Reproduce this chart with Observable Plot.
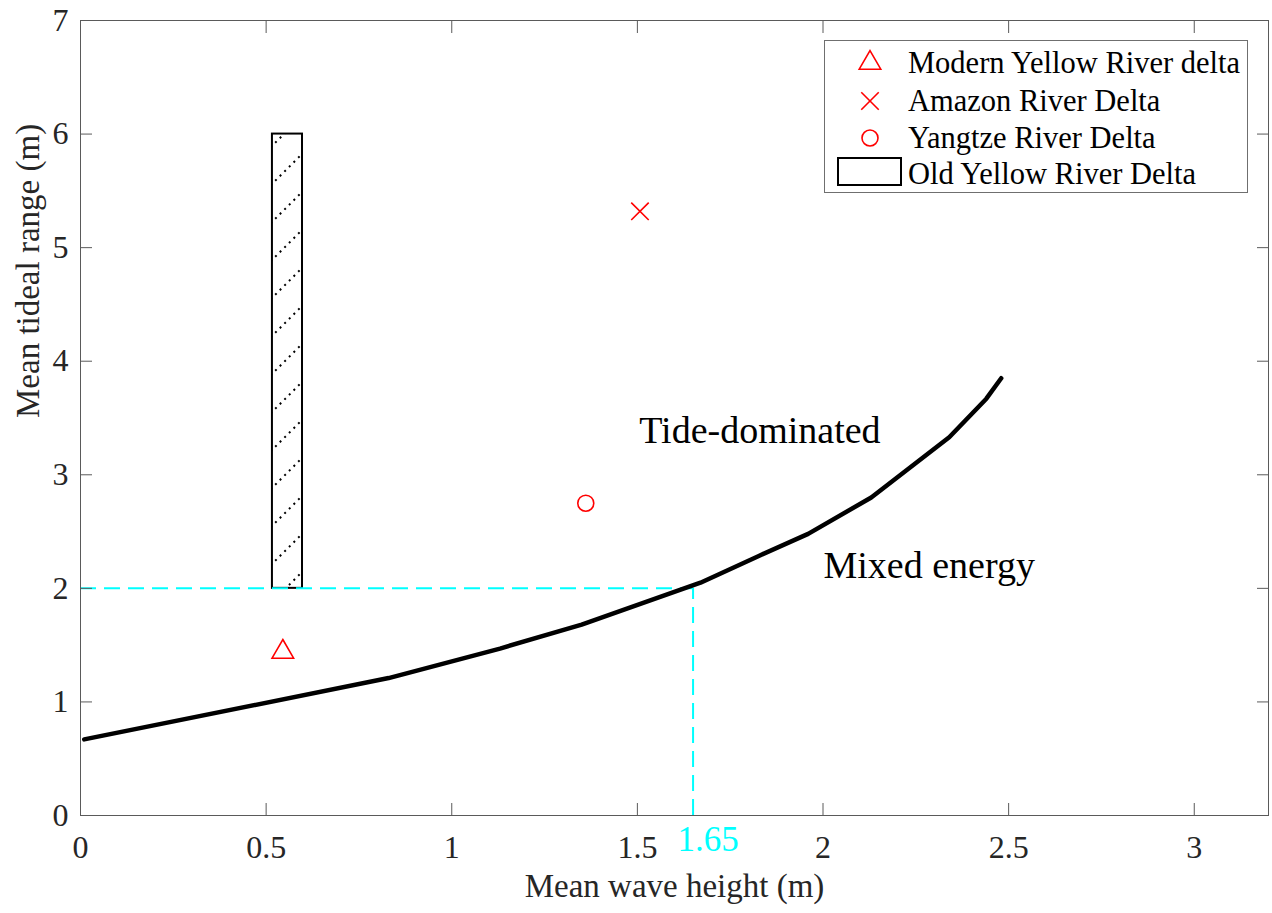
<!DOCTYPE html>
<html>
<head>
<meta charset="utf-8">
<script src="https://cdn.jsdelivr.net/npm/d3@7"></script>
<script src="https://cdn.jsdelivr.net/npm/@observablehq/plot@0.6"></script>
<style>
  body { margin: 0; background: #fff; }
  #wrap { position: relative; width: 1272px; height: 913px; font-family: "Liberation Serif", "Times New Roman", serif; }
  #legend { position: absolute; left: 824px; top: 40px; width: 424px; height: 153px; border: 1px solid #6f6f6f; background: #fff; box-sizing: border-box; }
  #legend .lbl { position: absolute; left: 83px; font-size: 30.5px; color: #000; white-space: nowrap; line-height: 36px; }
  #legend svg { position: absolute; }
</style>
</head>
<body>
<div id="wrap"></div>
<script>
// ---- data ----
const xTicks = [0, 0.5, 1, 1.5, 2, 2.5, 3];
const yTicks = [0, 1, 2, 3, 4, 5, 6, 7];

// boundary curve between tide-dominated and mixed energy
const curveX = [0.01, 0.83, 1.13, 1.35, 1.67, 1.83, 1.96, 2.13, 2.34, 2.44, 2.48];
const curveY = [0.67, 1.21, 1.47, 1.68, 2.05, 2.29, 2.48, 2.80, 3.33, 3.67, 3.85];

// deltas
const deltaNames = ["Modern Yellow River delta", "Amazon River Delta", "Yangtze River Delta"];
const deltaX = [0.545, 1.507, 1.361];
const deltaY = [1.44, 5.32, 2.75];
const deltaSymbols = ["triangle", "times", "circle"];

// old Yellow River delta range
const oldName = "Old Yellow River Delta";
const oldX = [0.517, 0.598];
const oldY = [2, 6];

// threshold
const thresholdX = 1.65;
const thresholdY = 2;
const thresholdLabel = "1.65";

// region labels
const regionNames = ["Tide-dominated", "Mixed energy"];
const regionX = [1.83, 2.286];
const regionY = [3.39, 2.2];

const xLabel = "Mean wave height (m)";
const yLabel = "Mean tideal range (m)";

// ---- build tables ----
const curve = curveX.map((x, i) => ({x, y: curveY[i]}));
const deltas = deltaNames.map((name, i) => ({name, x: deltaX[i], y: deltaY[i], symbol: deltaSymbols[i]}));
const oldRect = [{x1: oldX[0], x2: oldX[1], y1: oldY[0], y2: oldY[1]}];
const regions = regionNames.map((t, i) => ({t, x: regionX[i], y: regionY[i]}));

const axisColor = "#5a5a5a";
const textColor = "#262626";

const chart = Plot.plot({
  width: 1272,
  height: 913,
  marginLeft: 80,
  marginRight: 4,
  marginTop: 20,
  marginBottom: 98,
  style: {fontFamily: "Liberation Serif, Times New Roman, serif", background: "#fff"},
  x: {domain: [0, 3.2]},
  y: {domain: [0, 7]},
  marks: [
    // hatched old delta box
    Plot.rect(oldRect, {x1: "x1", x2: "x2", y1: "y1", y2: "y2", fill: "url(#hatch)", stroke: "black", strokeWidth: 2}),
    // cyan dashed threshold lines
    Plot.ruleY([thresholdY], {x1: 0, x2: thresholdX, stroke: "#00ffff", strokeWidth: 2, strokeDasharray: "16 8"}),
    Plot.ruleX([thresholdX], {y1: 0, y2: thresholdY, stroke: "#00ffff", strokeWidth: 2, strokeDasharray: "16 8"}),
    // boundary curve
    Plot.line(curve, {x: "x", y: "y", stroke: "black", strokeWidth: 4.5, strokeLinejoin: "round"}),
    // delta points
    Plot.dot(deltas, {x: "x", y: "y", symbol: "symbol", r: 8, stroke: "#ff0000", strokeWidth: 1.6, fill: "none"}),
    // region labels
    Plot.text(regions, {x: "x", y: "y", text: "t", fontSize: 38, fill: "#000"}),
    // frame
    Plot.frame({stroke: axisColor, strokeWidth: 1}),
    // inward ticks on four sides
    Plot.axisX(xTicks, {anchor: "bottom", tickSize: -12, tickFormat: () => "", label: null, stroke: axisColor}),
    Plot.axisX(xTicks, {anchor: "top", tickSize: -12, tickFormat: () => "", label: null, stroke: axisColor}),
    Plot.axisY(yTicks, {anchor: "left", tickSize: -12, tickFormat: () => "", label: null, stroke: axisColor}),
    Plot.axisY(yTicks, {anchor: "right", tickSize: -12, tickFormat: () => "", label: null, stroke: axisColor}),
    // tick labels
    Plot.axisX(xTicks, {anchor: "bottom", tickSize: 0, tickPadding: 20, fontSize: 32, fill: textColor, label: null, tickFormat: d => String(d)}),
    Plot.axisY(yTicks, {anchor: "left", tickSize: 0, tickPadding: 12, fontSize: 32, fill: textColor, label: null, tickFormat: d => String(d)}),
    // threshold label
    Plot.text([thresholdLabel], {x: thresholdX, frameAnchor: "bottom", lineAnchor: "middle", dx: 15, dy: 24, text: d => d, fontSize: 35, fill: "#00ffff"}),
    // axis titles
    Plot.text([xLabel], {frameAnchor: "bottom", lineAnchor: "middle", dy: 71, text: d => d, fontSize: 33, fill: textColor}),
    Plot.text([yLabel], {frameAnchor: "left", lineAnchor: "middle", dx: -52, rotate: -90, text: d => d, fontSize: 33, fill: textColor})
  ]
});

// hatch pattern definition
d3.select(chart).insert("defs", ":first-child").html(
  `<pattern id="hatch" patternUnits="userSpaceOnUse" width="38" height="38">
     <line x1="0" y1="38" x2="38" y2="0" stroke="black" stroke-width="2" stroke-dasharray="2 4.5"/>
   </pattern>`
);

const wrap = document.getElementById("wrap");
wrap.appendChild(chart);

// legend
const legend = document.createElement("div");
legend.id = "legend";
wrap.appendChild(legend);
const rowTops = [4, 42, 79, 115];
const symbolPaths = {
  triangle: d3.symbol(d3.symbolTriangle, 201)(),
  times: d3.symbol(d3.symbolTimes, 201)(),
  circle: d3.symbol(d3.symbolCircle, 201)()
};
deltas.forEach((d, i) => {
  const s = document.createElementNS("http://www.w3.org/2000/svg", "svg");
  s.setAttribute("width", 30); s.setAttribute("height", 30);
  s.style.left = "30px"; s.style.top = (rowTops[i] + 3) + "px";
  s.innerHTML = `<path transform="translate(15,15)" d="${symbolPaths[d.symbol]}" fill="none" stroke="#ff0000" stroke-width="1.6"/>`;
  legend.appendChild(s);
  const t = document.createElement("div");
  t.className = "lbl"; t.style.top = rowTops[i] + "px"; t.textContent = d.name;
  legend.appendChild(t);
});
{
  const s = document.createElementNS("http://www.w3.org/2000/svg", "svg");
  s.setAttribute("width", 66); s.setAttribute("height", 30);
  s.style.left = "12px"; s.style.top = "116px";
  s.innerHTML = `<rect x="1" y="1" width="63" height="27" fill="#fff" stroke="black" stroke-width="2"/>`;
  legend.appendChild(s);
  const t = document.createElement("div");
  t.className = "lbl"; t.style.top = rowTops[3] + "px"; t.textContent = oldName;
  legend.appendChild(t);
}
</script>
</body>
</html>
